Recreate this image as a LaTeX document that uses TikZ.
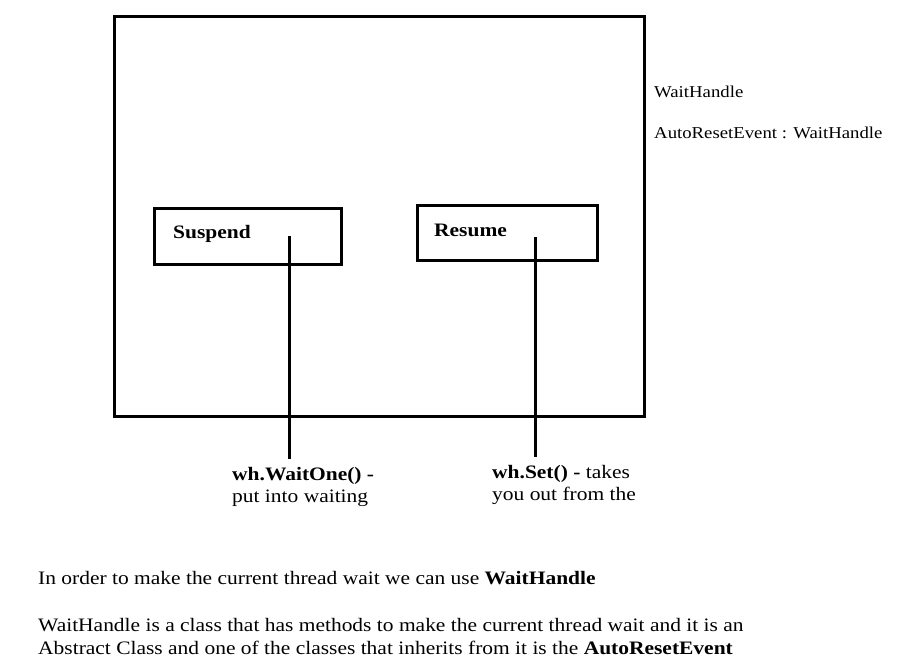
\documentclass[tikz,border=0pt]{standalone}
\usepackage{fontspec}
\setmainfont{Liberation Serif}[FakeStretch=1.13]
\begin{document}
\begin{tikzpicture}[x=1pt,y=-1pt,
  frame/.style={draw=black,line width=3pt},
  conn/.style={draw=black,line width=3pt},
  txt/.style={inner sep=0pt,anchor=base west,font=\fontsize{19}{23}\selectfont},
  smalltxt/.style={inner sep=0pt,anchor=base west,font=\fontsize{16.6}{20}\selectfont}]
\useasboundingbox[fill=white] (0,0) rectangle (902,667);
\path[frame] (114,16) rectangle (644,416);
\path[frame] (154,208) rectangle (341,264);
\path[frame] (417,205) rectangle (597,260);
\node[txt] (susp) at (173,238) {\textbf{Suspend}};
\node[txt] (resu) at (434,236) {\textbf{Resume}};
\coordinate (s1) at (289,236);
\coordinate (s2) at (289,459);
\coordinate (r1) at (535,237);
\coordinate (r2) at (535,457);
\draw[conn] (s1) -- (s2);
\draw[conn] (r1) -- (r2);
\node[txt] (wo1) at (232,480) {\textbf{wh.WaitOne() -}};
\node[txt] (wo2) at (232,502) {put into waiting};
\node[txt] (ws1) at (492,478) {\textbf{wh.Set() -} takes};
\node[txt] (ws2) at (492,500) {you out from the};
\node[smalltxt] (t1) at (654,97) {WaitHandle};
\node[smalltxt] (t2) at (654,138) {AutoResetEvent : WaitHandle};
\node[txt] (b1) at (38,584) {In order to make the current thread wait we can use \textbf{WaitHandle}};
\node[txt] (b2) at (38,631) {WaitHandle is a class that has methods to make the current thread wait and it is an};
\node[txt] (b3) at (38,654) {Abstract Class and one of the classes that inherits from it is the \textbf{AutoResetEvent}};
\end{tikzpicture}
\end{document}
